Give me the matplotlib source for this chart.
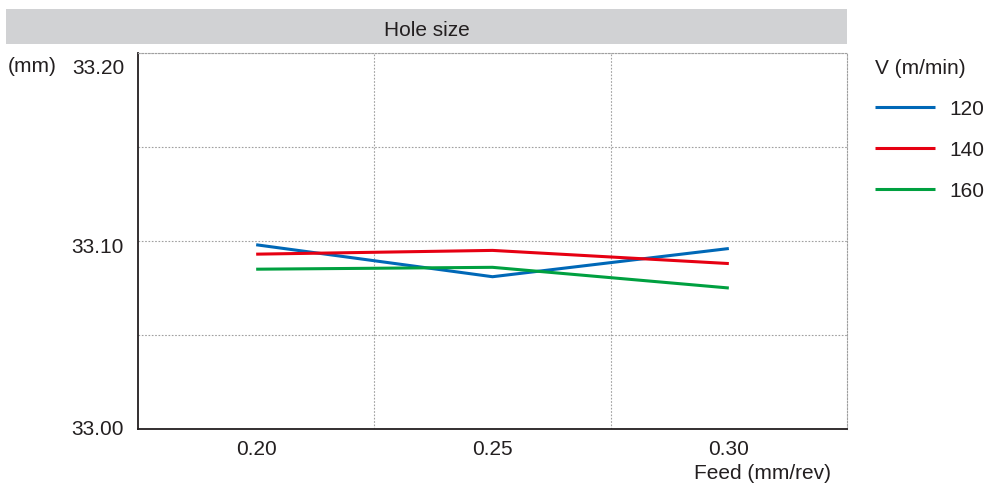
import matplotlib
matplotlib.use("Agg")
import matplotlib.pyplot as plt
import matplotlib.transforms as mtransforms
from matplotlib.patches import Rectangle
from matplotlib.ticker import FixedLocator

plt.rcParams['font.family'] = ['Liberation Sans', 'DejaVu Sans']

feeds = ["0.20", "0.25", "0.30"]
series_names = ["120", "140", "160"]
v120 = [33.098, 33.081, 33.096]
v140 = [33.093, 33.095, 33.088]
v160 = [33.085, 33.086, 33.075]
yticks = [33.00, 33.10, 33.20]
ytick_labels = ["33.00", "33.10", "33.20"]
colors = ["#0068b7", "#e60012", "#00a040"]

FS = 15
TXT = '#231f20'
fig = plt.figure(figsize=(9.84, 4.89), dpi=100)
W, H = 984, 489
ax = fig.add_axes([138 / W, 1 - 430 / H, (847 - 138) / W, (430 - 54) / H])

x = list(range(len(feeds)))
for vals, name, c in zip([v120, v140, v160], series_names, colors):
    ax.plot(x, vals, color=c, lw=2.2, label=name, solid_capstyle='butt')

ax.set_xlim(-0.5, 2.5)
ax.set_ylim(33.00, 33.20)
ax.set_xticks(x)
ax.set_xticklabels(feeds)
ax.xaxis.set_minor_locator(FixedLocator([0.5, 1.5]))
ax.set_yticks(yticks)
ax.set_yticklabels(ytick_labels)
ax.yaxis.set_minor_locator(FixedLocator([33.05, 33.15]))
ax.tick_params(which='both', length=0, labelsize=FS, colors=TXT)
ax.tick_params(axis='y', pad=10)
ax.tick_params(axis='x', pad=7)
gkw = dict(color='#a0a0a0', ls=(0, (1.5, 1.5)), lw=0.8)
ax.grid(True, axis='y', which='both', **gkw)
ax.grid(True, axis='x', which='minor', **gkw)
ax.grid(False, axis='x', which='major')
ax.set_axisbelow(True)
for s in ['top', 'right']:
    ax.spines[s].set_color('#a0a0a0')
    ax.spines[s].set_linestyle((0, (1.5, 1.5)))
    ax.spines[s].set_linewidth(0.8)
for s in ['left', 'bottom']:
    ax.spines[s].set_color(TXT)
    ax.spines[s].set_linewidth(1.3)

# the reference places the y labels slightly compressed toward the centre
offsets_px = [2.5, -3, -12]
for lab, dy in zip(ax.get_yticklabels(), offsets_px):
    lab.set_transform(lab.get_transform() + mtransforms.ScaledTranslation(0, dy / 100, fig.dpi_scale_trans))

# title bar
fig.patches.append(Rectangle((6 / W, 1 - 44.5 / H), (847 - 6) / W, 34.5 / H,
                             transform=fig.transFigure, facecolor='#d1d2d4',
                             edgecolor='none', zorder=0))
fig.text(427 / W, 1 - 31 / H, "Hole size", ha='center', va='center', fontsize=FS, color=TXT)
fig.text(8 / W, 1 - 66 / H, "(mm)", ha='left', va='center', fontsize=FS, color=TXT)
fig.text(762 / W, 1 - 474 / H, "Feed (mm/rev)", ha='center', va='center', fontsize=FS, color=TXT)

leg = ax.legend(loc='upper left', bbox_to_anchor=(875 / W, 1 - 59 / H), bbox_transform=fig.transFigure,
                frameon=False, title="V (m/min)", fontsize=FS, title_fontsize=FS,
                handlelength=2.9, handletextpad=0.65, labelspacing=1.05, borderaxespad=0,
                borderpad=0)
leg._legend_box.align = "left"
leg._legend_box.sep = 16
for t in leg.get_texts():
    t.set_color(TXT)
leg.get_title().set_color(TXT)

fig.savefig("out.png", dpi=100)
